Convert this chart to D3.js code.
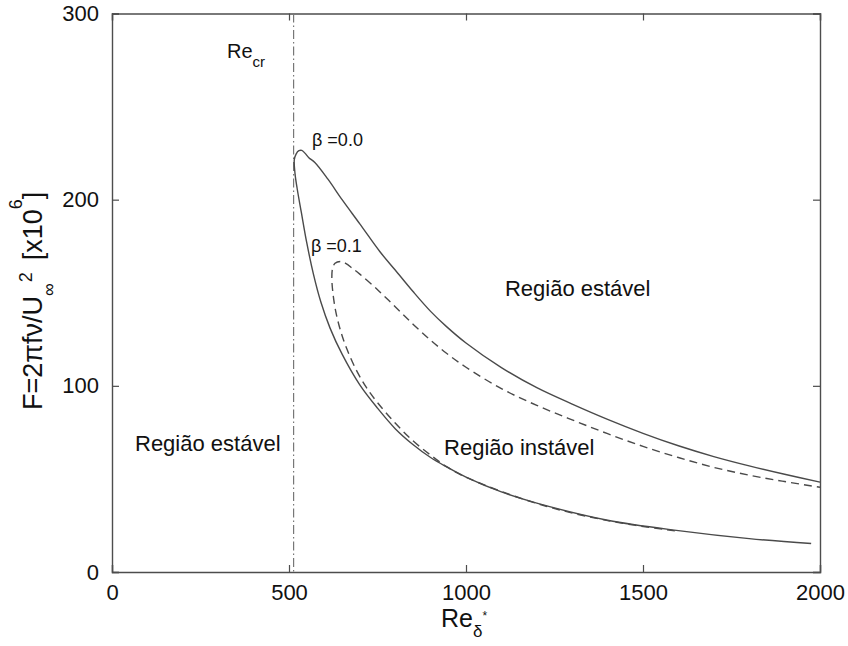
<!DOCTYPE html>
<html><head><meta charset="utf-8">
<script src="https://cdn.jsdelivr.net/npm/d3@7"></script>
<style>body{margin:0;background:#fff}svg{display:block}text{font-family:"Liberation Sans",Arial,Helvetica,sans-serif;fill:#111}</style>
</head><body><div id="chart"></div>
<script>
// ---- data ----
const xTicks = [0, 500, 1000, 1500, 2000];
const yTicks = [0, 100, 200, 300];
const reCritical = 513;
// beta = 0.0 neutral curve (solid): lower branch -> nose -> upper branch
const beta00 = [
  [1975,15.3],[1800,17.9],[1600,22.2],[1400,27.8],[1200,37],[1100,43],[1000,51],[945,56.5],
  [900,61.5],[850,68.5],[800,77],[750,88],[700,100.5],[650,117],[616,131],[590,145],[569,160],
  [550,177],[535,193],[523,206],[517,214],[515,221.5],
  [520,224.5],[528,226.3],[536,226.5],[545,225],[556,222.5],[573,220],[610,211],[650,200],
  [700,187],[757,172],[800,162.2],[851,150.5],[900,140],[945,131.8],[1000,123],[1100,109.8],
  [1200,99],[1300,90.2],[1400,82],[1500,74.5],[1600,67.8],[1700,62],[1800,57],[1900,52.5],
  [2000,48.3]
];
// beta = 0.1 neutral curve (dashed)
const beta01 = [
  [1590,22.1],[1400,27.6],[1200,36.8],[1000,50.9],[945,56.6],[900,62.8],[850,70.5],[800,80],
  [750,91],[719,99],[690,108.5],[663,120],[645,130],[632,140],[624,150],[621,158],[623,163],
  [630,165.8],[645,166.8],[660,165.8],[680,163],[700,160],[748,152],[800,142.5],[851,133],
  [900,124.5],[945,117.5],[1000,110],[1100,98.5],[1200,89.5],[1300,81.7],[1400,74.3],
  [1500,67.5],[1600,61.5],[1700,56.2],[1800,52],[1900,48.6],[2000,45.5]
];
const regionLabels = [
  {text:"Região estável", x:65, y:65},
  {text:"Região estável", x:1110, y:148},
  {text:"Região instável", x:938, y:63}
];
const curveLabels = [
  {text:"β =0.0", x:565, y:229},
  {text:"β =0.1", x:562, y:172}
];

// ---- chart ----
const W = 848, H = 646;
const m = {left:112, right:28, top:13.5, bottom:74};
const svg = d3.select("#chart").append("svg").attr("width", W).attr("height", H);
const x = d3.scaleLinear().domain([0,2000]).range([m.left, W - m.right]);
const y = d3.scaleLinear().domain([0,300]).range([H - m.bottom, m.top]);
const axisColor = "#4d4d4d", lineColor = "#4a4a4a";

// frame with inward ticks on all sides
const tl = 7;
const gB = svg.append("g").attr("transform",`translate(0,${y(0)})`)
  .call(d3.axisBottom(x).tickValues(xTicks).tickSize(-tl).tickPadding(tl+5).tickFormat(d3.format("d")));
const gT = svg.append("g").attr("transform",`translate(0,${y(300)})`)
  .call(d3.axisTop(x).tickValues(xTicks).tickSize(-tl).tickFormat(""));
const gL = svg.append("g").attr("transform",`translate(${x(0)},0)`)
  .call(d3.axisLeft(y).tickValues(yTicks).tickSize(-tl).tickPadding(tl+6).tickFormat(d3.format("d")));
const gR = svg.append("g").attr("transform",`translate(${x(2000)},0)`)
  .call(d3.axisRight(y).tickValues(yTicks).tickSize(-tl).tickFormat(""));
[gB,gT,gL,gR].forEach(g=>{
  g.select(".domain").attr("stroke",axisColor).attr("stroke-width",1.4);
  g.selectAll(".tick line").attr("stroke",axisColor).attr("stroke-width",1.2);
  g.selectAll(".tick text").style("font-size","22px").attr("fill","#111");
});
gB.selectAll(".tick text").attr("dy","0.71em");
gL.selectAll(".tick text").attr("dy","0.32em");

// Re critical dash-dot line
svg.append("line").attr("x1",x(reCritical)).attr("x2",x(reCritical))
  .attr("y1",y(300)).attr("y2",y(0)).attr("stroke","#777").attr("stroke-width",1.2)
  .attr("stroke-dasharray","9,3,1.5,3");

const line = d3.line().x(d=>x(d[0])).y(d=>y(d[1])).curve(d3.curveCatmullRom.alpha(0.5));
svg.append("path").datum(beta00).attr("d",line).attr("fill","none")
  .attr("stroke",lineColor).attr("stroke-width",1.4);
svg.append("path").datum(beta01).attr("d",line).attr("fill","none")
  .attr("stroke",lineColor).attr("stroke-width",1.4).attr("stroke-dasharray","8,5");

// labels
svg.selectAll(".reg").data(regionLabels).join("text").attr("class","reg")
  .attr("x",d=>x(d.x)).attr("y",d=>y(d.y)).style("font-size","22px").text(d=>d.text);
svg.selectAll(".cl").data(curveLabels).join("text").attr("class","cl")
  .attr("x",d=>x(d.x)).attr("y",d=>y(d.y)).style("font-size","18px").text(d=>d.text);

// Re_cr label
const rc = svg.append("text").attr("x",227).attr("y",58).style("font-size","20px");
rc.append("tspan").text("Re");
rc.append("tspan").attr("dy",9).style("font-size","15px").text("cr");

// x axis label Re_δ*
const xl = svg.append("text").attr("x",441).attr("y",627).style("font-size","25px");
xl.append("tspan").text("Re");
xl.append("tspan").attr("dy",10).style("font-size","17px").text("δ");
xl.append("tspan").attr("dy",-17).attr("dx",0).style("font-size","12px").text("*");

// y axis label
const yl = svg.append("text").attr("transform","translate(42,410) rotate(-90)").style("font-size","27px");
yl.append("tspan").text("F=2πfν/U");
yl.append("tspan").attr("dy",13).style("font-size","18px").text("∞");
yl.append("tspan").attr("dy",-23).attr("dx",1).style("font-size","18px").text("2");
yl.append("tspan").attr("dy",10).attr("dx",12).style("font-size","27px").text("[x10");
yl.append("tspan").attr("dy",-20).style("font-size","18px").text("6");
yl.append("tspan").attr("dy",20).style("font-size","27px").text("]");
</script></body></html>
